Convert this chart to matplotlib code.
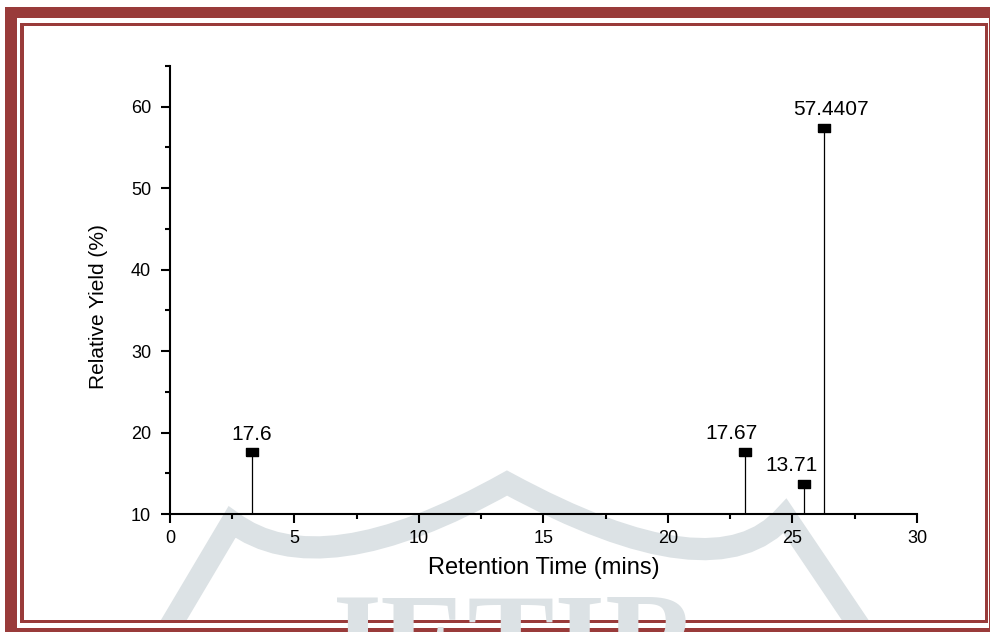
import matplotlib
matplotlib.use("Agg")
import matplotlib.pyplot as plt
from matplotlib.patches import Rectangle, PathPatch
from matplotlib.path import Path
from matplotlib.ticker import MultipleLocator

plt.rcParams['font.family'] = ['Liberation Sans', 'DejaVu Sans']

# retention time (mins) and relative yield (%) of each peak
retention_time = [3.29, 23.09, 25.46, 26.27]
relative_yield = [17.6, 17.67, 13.71, 57.4407]
peak_labels = ['17.6', '17.67', '13.71', '57.4407']
# horizontal nudge of each value label, in points
label_dx = [0, -10, -9, 5]

frame_red = '#993b3a'
mark_grey = '#dce2e5'

fig = plt.figure(figsize=(9.9, 6.32), dpi=100)
fig.patch.set_facecolor('white')

# background layer in pixel units: page frame and faint logo
bg = fig.add_axes([0, 0, 1, 1], zorder=-1)
bg.set_xlim(0, 990)
bg.set_ylim(632, 0)
bg.axis('off')

inner = Rectangle((24, 26), 961, 594, transform=bg.transData, fill=False, lw=0)
bg.add_patch(inner)

crown = Path(
    [(159, 645), (232, 522), (320, 588), (507, 483), (715, 596), (785, 516), (872, 645)],
    [Path.MOVETO, Path.LINETO, Path.CURVE3, Path.CURVE3, Path.CURVE3, Path.CURVE3, Path.LINETO],
)
logo = PathPatch(crown, fill=False, ec=mark_grey, lw=16, capstyle='butt', joinstyle='miter')
bg.add_patch(logo)
logo.set_clip_path(inner)
word = bg.text(315, 684, 'JETIR', fontsize=94, family='Liberation Serif', weight='bold',
               color=mark_grey, ha='left', va='baseline')
word.set_clip_path(inner)

# thick outer band
for x, y, w, h in [(5, 7.3, 985, 10.7), (5, 7.3, 11.5, 625), (5, 628, 985, 5), (989, 7.3, 2, 625)]:
    bg.add_patch(Rectangle((x, y), w, h, color=frame_red, lw=0))
# thin inner line
for x, y, w, h in [(20, 22.7, 968, 3.2), (20, 22.7, 3.8, 600), (20, 619.8, 968, 3.2), (984.8, 22.7, 3.2, 600)]:
    bg.add_patch(Rectangle((x, y), w, h, color=frame_red, lw=0))

ax = fig.add_axes([0.1717, 0.1867, 0.7545, 0.7089])
ax.set_facecolor('none')

ax.vlines(retention_time, 10, relative_yield, color='black', lw=0.9)
box = [(-1, -0.67), (1, -0.67), (1, 0.67), (-1, 0.67), (-1, -0.67)]
ax.plot(retention_time, relative_yield, ls='none', marker=box, ms=8.6, color='black')

for x, y, txt, dx in zip(retention_time, relative_yield, peak_labels, label_dx):
    ax.annotate(txt, (x, y), xytext=(dx, 9), textcoords='offset points',
                ha='center', va='baseline', fontsize=15)

ax.set_xlim(0, 30)
ax.set_ylim(10, 65)
ax.xaxis.set_major_locator(MultipleLocator(5))
ax.xaxis.set_minor_locator(MultipleLocator(2.5))
ax.yaxis.set_major_locator(MultipleLocator(10))
ax.yaxis.set_minor_locator(MultipleLocator(5))

for side in ['top', 'right']:
    ax.spines[side].set_visible(False)
for side in ['left', 'bottom']:
    ax.spines[side].set_linewidth(1.5)

ax.tick_params(which='both', direction='out', width=1.5)
ax.tick_params(which='major', length=6.5, labelsize=13)
ax.tick_params(which='minor', length=3.5)
ax.tick_params(axis='y', which='major', pad=7)
ax.tick_params(axis='x', which='major', pad=5)

ax.set_xlabel('Retention Time (mins)', fontsize=17, labelpad=7)
ax.set_ylabel('Relative Yield (%)', fontsize=15)
ax.yaxis.set_label_coords(-0.083, 0.462)

fig.savefig('out.png', dpi=100)
